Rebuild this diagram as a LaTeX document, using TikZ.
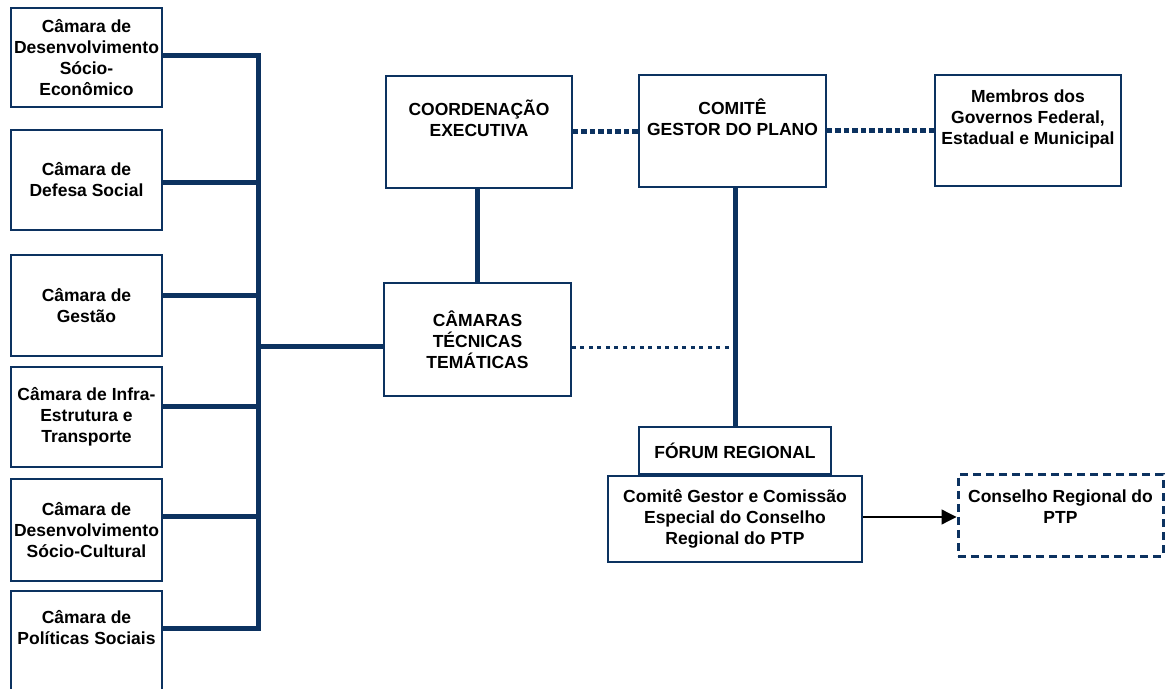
\documentclass[tikz,border=0pt]{standalone}
\usepackage{fontspec}
\setmainfont{Liberation Sans}
\usetikzlibrary{arrows.meta}

\begin{document}
\begin{tikzpicture}[x=1pt,y=1pt,
  camBox/.style={draw=lineColor,line width=1.8pt,fill=white,align=center,inner sep=1pt,
    text=black,font=\bfseries\fontsize{17.5}{21}\selectfont},
  sideBox/.style={camBox,minimum width=151},
  busLine/.style={draw=lineColor,line width=5pt},
  thickDots/.style={draw=lineColor,line width=5pt,dash pattern=on 5.5pt off 3pt},
  thinDots/.style={draw=lineColor,line width=3pt,dash pattern=on 4pt off 4.5pt},
  dashBox/.style={camBox,line width=3pt,dash pattern=on 8pt off 5pt},
  link/.style={draw=black,line width=1.3pt,-{Triangle[length=15pt,width=15pt]}}]
\definecolor{fillColor}{RGB}{255,255,255}
\definecolor{lineColor}{RGB}{12,50,96}
\path[use as bounding box,fill=fillColor] (0,0) rectangle (1166,688);

% camaras do lado esquerdo
\node[sideBox,minimum height=99] (socioEcon) at ( 86.5,630.5) {Câmara de\\Desenvolvimento\\Sócio-\\Econômico};

\node[sideBox,minimum height=100] (defesa) at ( 86.5,508.0) {Câmara de\\Defesa Social};

\node[sideBox,minimum height=101] (gestao) at ( 86.5,382.5) {Câmara de\\Gestão};

\node[sideBox,minimum height=100] (infra) at ( 86.5,271.0) {Câmara de Infra-\\Estrutura e\\Transporte};

\node[sideBox,minimum height=102] (socioCult) at ( 86.5,158.0) {Câmara de\\Desenvolvimento\\Sócio-Cultural};

\node[sideBox,minimum height=100] (politicas) at ( 86.5, 47.0) {Câmara de\\Políticas Sociais\\\strut};

% estrutura central
\node[camBox,minimum width=186,minimum height=112] (coord) at (479.0,556.0) {COORDENAÇÃO\\EXECUTIVA\\\strut};

\node[camBox,minimum width=187,minimum height=112] (comite) at (732.5,557.0) {COMITÊ\\GESTOR DO PLANO\\\strut};

\node[camBox,minimum width=186,minimum height=111] (membros) at (1028.0,557.5) {Membros dos\\Governos Federal,\\Estadual e Municipal\\\strut};

\node[camBox,minimum width=187,minimum height=113] (tecnicas) at (477.5,348.5) {CÂMARAS\\TÉCNICAS\\TEMÁTICAS};

\node[camBox,minimum width=192,minimum height=47] (forum) at (735.0,237.5) {FÓRUM REGIONAL};

\node[camBox,minimum width=254,minimum height=86] (especial) at (735.0,169.0) {Comitê Gestor e Comissão\\Especial do Conselho\\Regional do PTP};

\node[dashBox,minimum width=205,minimum height=81] (conselho) at (1060.5,172.5) {Conselho Regional do\\PTP\\[-10pt]\strut};

% barramento das camaras
\coordinate (busTop) at (258,632);

\coordinate (busBot) at (258, 60);

\path[busLine] (busTop -| socioEcon.east) -- (busTop) -- (busBot) -- (busBot -| politicas.east);

\path[busLine] (defesa.east |- 0,505) -- (258,505);

\path[busLine] (gestao.east |- 0,392) -- (258,392);

\path[busLine] (infra.east |- 0,281) -- (258,281);

\path[busLine] (socioCult.east |- 0,171) -- (258,171);

\path[busLine] ([yshift=-7.5]tecnicas.west) -- ([yshift=-7.5]tecnicas.west -| busTop);

% ligacoes
\path[busLine] (tecnicas.north) -- (tecnicas.north |- coord.south);

\path[busLine] (forum.north) -- (forum.north |- comite.south);

\path[thickDots] (coord.east) -- (coord.east -| comite.west);

\path[thickDots] (comite.east) -- (comite.east -| membros.west);

\path[thinDots] ([yshift=-8]tecnicas.east) -- ([yshift=-8]tecnicas.east -| forum.north);

\path[link] ([yshift=2]especial.east) -- ([yshift=2]especial.east -| conselho.west);
\end{tikzpicture}
\end{document}
